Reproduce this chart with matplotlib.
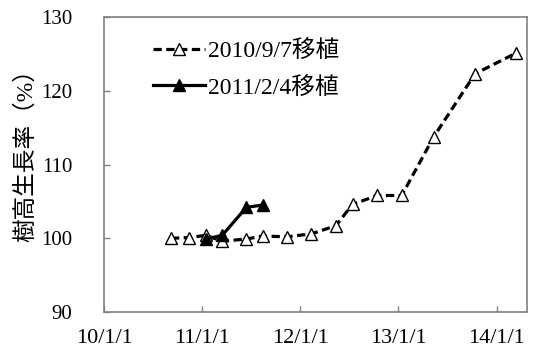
import pandas as pd
import matplotlib
matplotlib.use("Agg")
import matplotlib.pyplot as plt
import matplotlib.dates as mdates
import matplotlib.ticker as mticker

plt.rcParams["font.family"] = ["Liberation Serif", "Noto Sans CJK JP", "DejaVu Sans"]
plt.rcParams["font.size"] = 15

# --- data ---
dates_a = pd.to_datetime([
    "2010-09-07", "2010-11-15", "2011-01-15", "2011-03-17", "2011-06-15",
    "2011-08-14", "2011-11-14", "2012-02-12", "2012-05-13", "2012-07-14",
    "2012-10-14", "2013-01-13", "2013-05-13", "2013-10-13", "2014-03-14",
])
growth_a = [100.0, 100.1, 100.4, 99.6, 99.9, 100.3, 100.2, 100.6, 101.7,
            104.6, 105.8, 105.8, 113.8, 122.3, 125.1]

dates_b = pd.to_datetime(["2011-01-15", "2011-03-17", "2011-06-15", "2011-08-14"])
growth_b = [99.9, 100.4, 104.2, 104.5]

label_a = "2010/9/7移植"
label_b = "2011/2/4移植"
ylabel = "樹高生長率（%）"
xticks = pd.to_datetime(["2010-01-01", "2011-01-01", "2012-01-01", "2013-01-01", "2014-01-01"])

fig = plt.figure(figsize=(5.39, 3.52), dpi=100)
ax = fig.add_axes([0.193, 0.1136, 0.785, 0.838])

ax.plot(dates_a, growth_a, color="black", linestyle=(0, (2.6, 1.4)), linewidth=2.3,
        marker="^", markersize=8.5, markerfacecolor="white", markeredgecolor="black",
        markeredgewidth=1.0, label=label_a)
ax.plot(dates_b, growth_b, color="black", linestyle="-", linewidth=2.3,
        marker="^", markersize=8.5, markerfacecolor="black", markeredgecolor="black",
        label=label_b)

ax.set_xlim(pd.Timestamp("2010-01-01"), pd.Timestamp("2014-04-25"))
ax.set_ylim(90, 130)
ax.set_yticks([90, 100, 110, 120, 130])
ax.set_xticks(xticks)
ax.xaxis.set_major_formatter(mticker.FuncFormatter(
    lambda v, pos: (lambda d: f"{d.year % 100}/{d.month}/{d.day}")(mdates.num2date(v))))

ax.tick_params(direction="in", length=4, color="#808080", width=1, labelsize=15)
ax.tick_params(axis="y", pad=23)
ax.tick_params(axis="x", pad=12, labelsize=16)
for s in ax.spines.values():
    s.set_color("#808080")
    s.set_linewidth(1.2)

ax.set_ylabel(ylabel, fontsize=17)
ax.yaxis.set_label_coords(-0.158, 0.55)

ax.legend(loc="upper left", bbox_to_anchor=(0.066, 0.995), frameon=False,
          handlelength=2.2, handletextpad=0.1, labelspacing=0.62, fontsize=17)

fig.savefig("out.png", dpi=100)
